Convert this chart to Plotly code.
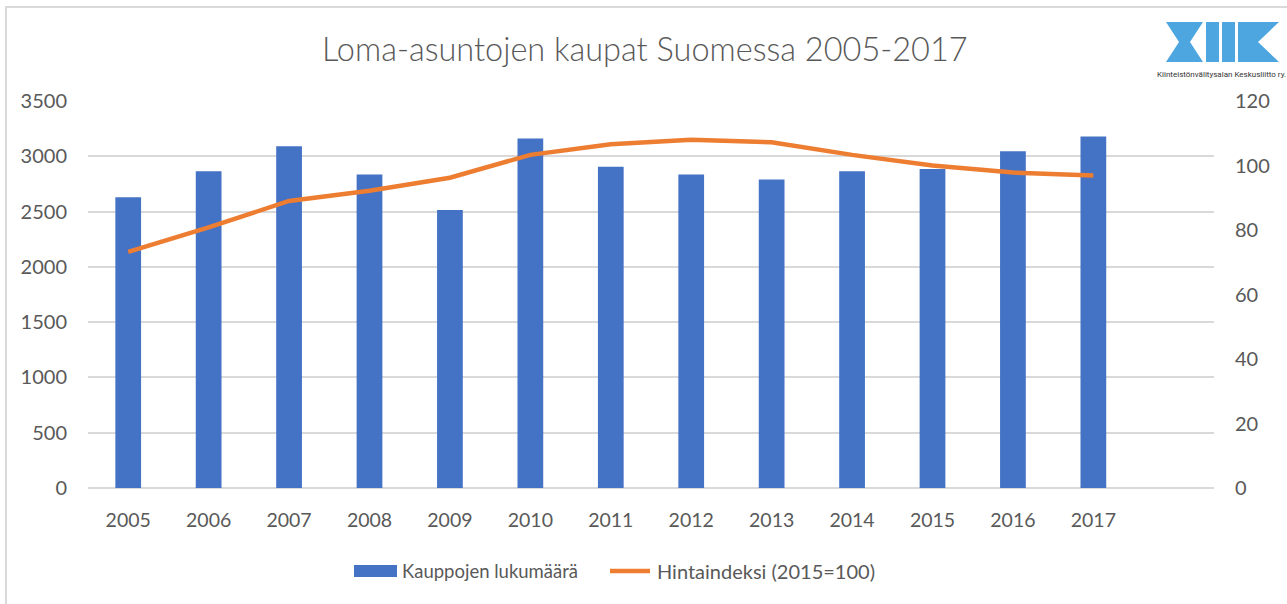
import plotly.graph_objects as go

years = ["2005", "2006", "2007", "2008", "2009", "2010", "2011", "2012", "2013", "2014", "2015", "2016", "2017"]
kaupat = [2630, 2865, 3090, 2835, 2515, 3160, 2905, 2835, 2790, 2865, 2885, 3045, 3180]
hintaindeksi = [73.2, 80.8, 89.0, 92.2, 96.2, 103.3, 106.6, 108.0, 107.2, 103.3, 100.0, 97.8, 96.9]
left_ticks = [0, 500, 1000, 1500, 2000, 2500, 3000, 3500]
right_ticks = [0, 20, 40, 60, 80, 100, 120]
legend_names = ["Kauppojen lukumäärä", "Hintaindeksi (2015=100)"]

W, H = 1287, 604
L, R, T, B = 88, 1214, 101, 488
ML, MR, MT, MB = L, W - R, T, H - B


def px(x):
    return (x - L) / (R - L)


def py(y):
    return (B - y) / (B - T)


FONT = "Lato, 'Open Sans', sans-serif"
GREY = "#595959"
BLUE = "#4472C4"
ORANGE = "#ED7D31"

fig = go.Figure()
fig.add_trace(go.Bar(
    x=years, y=kaupat, name=legend_names[0],
    marker=dict(color=BLUE, line=dict(width=0)),
    width=0.32, yaxis="y", showlegend=False,
))
fig.add_trace(go.Scatter(
    x=years, y=hintaindeksi, name=legend_names[1],
    mode="lines", line=dict(color=ORANGE, width=4.5),
    yaxis="y2", showlegend=False,
))

shapes = []
# chart border
shapes.append(dict(type="rect", xref="paper", yref="paper",
                   x0=px(6), x1=px(1292), y0=py(612), y1=py(7),
                   line=dict(color="#D9D9D9", width=2), fillcolor="rgba(0,0,0,0)", layer="below"))

# logo
LOGO = "#4DA6DF"


def poly(pts):
    d = "M " + " L ".join(f"{px(x):.5f},{py(y):.5f}" for x, y in pts) + " Z"
    return dict(type="path", xref="paper", yref="paper", path=d,
                fillcolor=LOGO, line=dict(width=0))


shapes.append(poly([(1166, 22), (1203, 22), (1190, 42), (1203, 62), (1166, 62), (1179, 42)]))
shapes.append(poly([(1206, 22), (1219, 22), (1219, 62), (1206, 62)]))
shapes.append(poly([(1222, 22), (1235, 22), (1235, 62), (1222, 62)]))
shapes.append(poly([(1238, 22), (1279, 22), (1258, 42), (1279, 62), (1238, 62)]))

# legend keys
shapes.append(dict(type="rect", xref="paper", yref="paper",
                   x0=px(354), x1=px(397), y0=py(577), y1=py(565),
                   fillcolor=BLUE, line=dict(width=0)))
shapes.append(dict(type="line", xref="paper", yref="paper",
                   x0=px(610), x1=px(650), y0=py(571), y1=py(571),
                   line=dict(color=ORANGE, width=4.5)))

annotations = [
    dict(text="Loma-asuntojen kaupat Suomessa 2005-2017", xref="paper", yref="paper",
         x=px(645), y=py(48), xanchor="center", yanchor="middle", showarrow=False,
         font=dict(family="Lato, sans-serif", size=32.5, color=GREY, weight=300)),
    dict(text="Kiinteistönvälitysalan Keskusliitto ry.", xref="paper", yref="paper",
         x=px(1221), y=py(75), xanchor="center", yanchor="middle", showarrow=False,
         font=dict(family="'Liberation Sans Narrow', 'Roboto', sans-serif", size=8, color="#333333")),
    dict(text=legend_names[0], xref="paper", yref="paper",
         x=px(400), y=py(571), xanchor="left", yanchor="middle", showarrow=False,
         font=dict(family=FONT, size=18.5, color=GREY)),
    dict(text=legend_names[1], xref="paper", yref="paper",
         x=px(655), y=py(571), xanchor="left", yanchor="middle", showarrow=False,
         font=dict(family=FONT, size=20, color=GREY)),
]

fig.update_layout(
    width=W, height=H,
    margin=dict(l=ML, r=MR, t=MT, b=MB, pad=0),
    paper_bgcolor="white", plot_bgcolor="white",
    font=dict(family=FONT, size=19.5, color=GREY),
    showlegend=False,
    xaxis=dict(type="category", range=[-0.5, 13.5], showgrid=False, showline=False,
               ticks="", ticklabelstandoff=18, tickfont=dict(size=19.5, color=GREY),
               zeroline=False),
    yaxis=dict(range=[0, 3500], tickvals=left_ticks, showgrid=True, gridcolor="#D9D9D9",
               gridwidth=1.5, zeroline=True, zerolinecolor="#D9D9D9", zerolinewidth=1.5,
               showline=False, ticks="", ticklabelstandoff=20, tickfont=dict(size=20, color=GREY)),
    yaxis2=dict(range=[0, 120], tickvals=right_ticks, overlaying="y", side="right",
                showgrid=False, zeroline=False, showline=False, ticks="",
                ticklabelstandoff=20, tickfont=dict(size=20, color=GREY)),
    shapes=shapes,
    annotations=annotations,
)

fig.write_html("out.html", config={"displayModeBar": False},
               post_script="document.body.style.margin='0';document.body.style.overflow='hidden';")
